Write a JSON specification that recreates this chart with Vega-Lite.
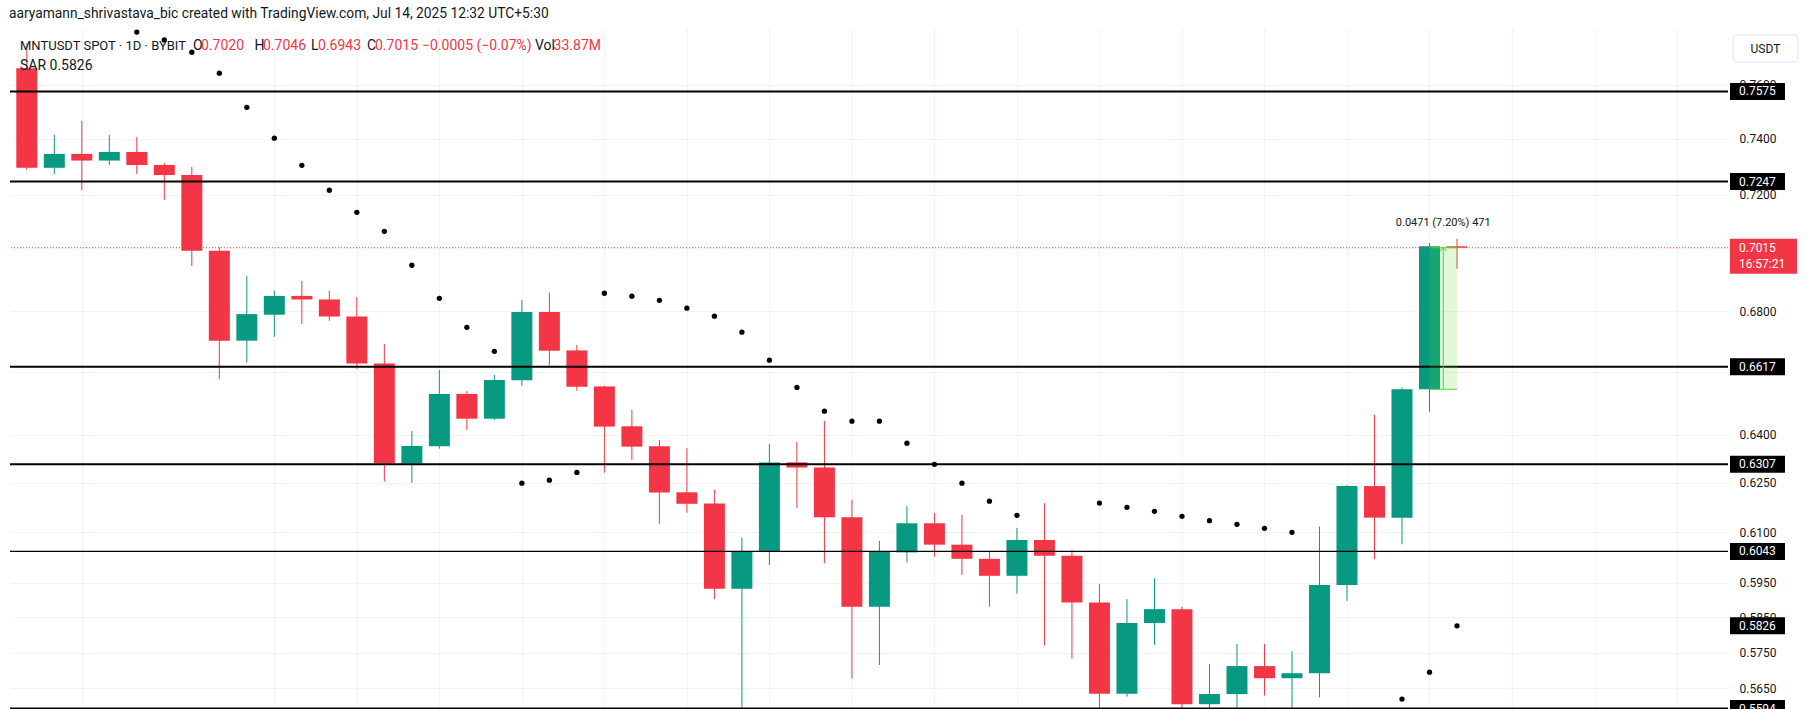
{
  "$schema": "https://vega.github.io/schema/vega-lite/v6.json",
  "width": 1718,
  "height": 681,
  "autosize": {"type": "none"},
  "padding": {"left": 10, "top": 28, "right": 86, "bottom": 0},
  "background": "#ffffff",
  "config": {"view": {"stroke": null}, "font": "Roboto", "scale": {"continuousPadding": 0}},
  "datasets": {
    "candles": [
      {"i":0,"open":0.7662,"high":0.7757,"low":0.7288,"close":0.7296},
      {"i":1,"open":0.7296,"high":0.7415,"low":0.7274,"close":0.7346},
      {"i":2,"open":0.7346,"high":0.7466,"low":0.7217,"close":0.7322},
      {"i":3,"open":0.7322,"high":0.7415,"low":0.7306,"close":0.7353},
      {"i":4,"open":0.7353,"high":0.7407,"low":0.7274,"close":0.7306},
      {"i":5,"open":0.7306,"high":0.7313,"low":0.7182,"close":0.7270},
      {"i":6,"open":0.7270,"high":0.7299,"low":0.6952,"close":0.7005},
      {"i":7,"open":0.7005,"high":0.7017,"low":0.6577,"close":0.6702},
      {"i":8,"open":0.6702,"high":0.6918,"low":0.6630,"close":0.6790},
      {"i":9,"open":0.6788,"high":0.6869,"low":0.6715,"close":0.6851},
      {"i":10,"open":0.6851,"high":0.6902,"low":0.6757,"close":0.6839},
      {"i":11,"open":0.6839,"high":0.6869,"low":0.6768,"close":0.6782},
      {"i":12,"open":0.6782,"high":0.6847,"low":0.6610,"close":0.6627},
      {"i":13,"open":0.6627,"high":0.6691,"low":0.6254,"close":0.6310},
      {"i":14,"open":0.6310,"high":0.6411,"low":0.6250,"close":0.6364},
      {"i":15,"open":0.6363,"high":0.6606,"low":0.6356,"close":0.6529},
      {"i":16,"open":0.6529,"high":0.6538,"low":0.6414,"close":0.6450},
      {"i":17,"open":0.6450,"high":0.6590,"low":0.6446,"close":0.6574},
      {"i":18,"open":0.6573,"high":0.6837,"low":0.6555,"close":0.6797},
      {"i":19,"open":0.6797,"high":0.6862,"low":0.6622,"close":0.6669},
      {"i":20,"open":0.6670,"high":0.6688,"low":0.6539,"close":0.6552},
      {"i":21,"open":0.6553,"high":0.6555,"low":0.6281,"close":0.6425},
      {"i":22,"open":0.6426,"high":0.6478,"low":0.6321,"close":0.6362},
      {"i":23,"open":0.6363,"high":0.6383,"low":0.6125,"close":0.6220},
      {"i":24,"open":0.6221,"high":0.6357,"low":0.6159,"close":0.6186},
      {"i":25,"open":0.6187,"high":0.6228,"low":0.5903,"close":0.5933},
      {"i":26,"open":0.5933,"high":0.6084,"low":0.5575,"close":0.6042},
      {"i":27,"open":0.6042,"high":0.6370,"low":0.6003,"close":0.6313},
      {"i":28,"open":0.6313,"high":0.6377,"low":0.6174,"close":0.6297},
      {"i":29,"open":0.6297,"high":0.6443,"low":0.6008,"close":0.6145},
      {"i":30,"open":0.6145,"high":0.6198,"low":0.5677,"close":0.5881},
      {"i":31,"open":0.5881,"high":0.6074,"low":0.5715,"close":0.6042},
      {"i":32,"open":0.6040,"high":0.6179,"low":0.6010,"close":0.6127},
      {"i":33,"open":0.6127,"high":0.6158,"low":0.6027,"close":0.6063},
      {"i":34,"open":0.6063,"high":0.6152,"low":0.5973,"close":0.6021},
      {"i":35,"open":0.6021,"high":0.6041,"low":0.5881,"close":0.5971},
      {"i":36,"open":0.5971,"high":0.6113,"low":0.5919,"close":0.6077},
      {"i":37,"open":0.6077,"high":0.6188,"low":0.5770,"close":0.6030},
      {"i":38,"open":0.6030,"high":0.6047,"low":0.5733,"close":0.5893},
      {"i":39,"open":0.5893,"high":0.5947,"low":0.5560,"close":0.5635},
      {"i":40,"open":0.5635,"high":0.5903,"low":0.5627,"close":0.5834},
      {"i":41,"open":0.5834,"high":0.5964,"low":0.5772,"close":0.5874},
      {"i":42,"open":0.5874,"high":0.5881,"low":0.5588,"close":0.5606},
      {"i":43,"open":0.5606,"high":0.5718,"low":0.5588,"close":0.5634},
      {"i":44,"open":0.5634,"high":0.5774,"low":0.5590,"close":0.5712},
      {"i":45,"open":0.5712,"high":0.5774,"low":0.5630,"close":0.5678},
      {"i":46,"open":0.5678,"high":0.5754,"low":0.5590,"close":0.5692},
      {"i":47,"open":0.5692,"high":0.6117,"low":0.5625,"close":0.5944},
      {"i":48,"open":0.5944,"high":0.6243,"low":0.5898,"close":0.6240},
      {"i":49,"open":0.6240,"high":0.6462,"low":0.6020,"close":0.6144},
      {"i":50,"open":0.6144,"high":0.6550,"low":0.6064,"close":0.6544},
      {"i":51,"open":0.6544,"high":0.7031,"low":0.6472,"close":0.7020},
      {"i":52,"open":0.7020,"high":0.7046,"low":0.6943,"close":0.7015}
    ],
    "sar": [
      {"i":4,"sar":0.7799},{"i":5,"sar":0.7769},{"i":6,"sar":0.7722},{"i":7,"sar":0.7643},
      {"i":8,"sar":0.7516},{"i":9,"sar":0.7403},{"i":10,"sar":0.7305},{"i":11,"sar":0.7216},
      {"i":12,"sar":0.7138},{"i":13,"sar":0.7072},{"i":14,"sar":0.6955},{"i":15,"sar":0.6843},
      {"i":16,"sar":0.6746},{"i":17,"sar":0.6667},{"i":18,"sar":0.6249},{"i":19,"sar":0.6258},
      {"i":20,"sar":0.6282},{"i":21,"sar":0.6860},{"i":22,"sar":0.6850},{"i":23,"sar":0.6836},
      {"i":24,"sar":0.6810},{"i":25,"sar":0.6783},{"i":26,"sar":0.6730},{"i":27,"sar":0.6638},
      {"i":28,"sar":0.6550},{"i":29,"sar":0.6474},{"i":30,"sar":0.6442},{"i":31,"sar":0.6442},
      {"i":32,"sar":0.6373},{"i":33,"sar":0.6307},{"i":34,"sar":0.6249},{"i":35,"sar":0.6194},
      {"i":36,"sar":0.6151},{"i":39,"sar":0.6188},{"i":40,"sar":0.6175},{"i":41,"sar":0.6163},
      {"i":42,"sar":0.6148},{"i":43,"sar":0.6135},{"i":44,"sar":0.6124},{"i":45,"sar":0.6112},
      {"i":46,"sar":0.6100},{"i":50,"sar":0.5620},{"i":51,"sar":0.5695},{"i":52,"sar":0.5826}
    ],
    "levels": [
      {"price":0.7575,"weight":"major"},
      {"price":0.7247,"weight":"major"},
      {"price":0.6617,"weight":"major"},
      {"price":0.6307,"weight":"major"},
      {"price":0.6043,"weight":"minor"},
      {"price":0.5594,"weight":"major"}
    ],
    "pricelabels": [
      {"price":0.7575,"text":"0.7575"},
      {"price":0.7247,"text":"0.7247"},
      {"price":0.6617,"text":"0.6617"},
      {"price":0.6307,"text":"0.6307"},
      {"price":0.6043,"text":"0.6043"},
      {"price":0.5826,"text":"0.5826"},
      {"price":0.5594,"text":"0.5594"}
    ],
    "last": [{"price":0.7015,"text":"0.7015","countdown":"16:57:21"}],
    "measure": [{"start":51,"end":52,"mid":51.5,"from":0.6544,"to":0.7015,"label":"0.0471 (7.20%) 471"}]
  },
  "layer": [
    {
      "data": {"name": "candles"},
      "mark": {"type": "rule", "strokeWidth": 1},
      "encoding": {
        "x": {"field": "i", "type": "quantitative",
              "scale": {"domain": [-0.6108, 61.853], "nice": false, "zero": false, "padding": 0},
              "axis": {"values": [2,9,12,15,18,21,24,27,30,33,36,39,42,45,48,51,54,57,60],
                       "grid": true, "gridColor": "#f0f3fa", "gridWidth": 1,
                       "labels": false, "ticks": false, "domain": false, "title": null}},
        "y": {"field": "low", "type": "quantitative",
              "scale": {"type": "log", "domain": [0.55928, 0.78146], "nice": false},
              "axis": {"orient": "right", "values": [0.76,0.74,0.72,0.68,0.66,0.64,0.625,0.61,0.595,0.585,0.575,0.565],
                       "format": ".4f", "grid": true, "gridColor": "#f0f3fa", "gridWidth": 1,
                       "ticks": false, "domain": false, "labelPadding": 11, "labelAlign": "left",
                       "labelColor": "#131722", "labelFontSize": 12, "labelFont": "Roboto",
                       "labelOverlap": false, "labelFlush": false, "labelBound": false, "title": null,
                       "labelExpr": "datum.value == 0.66 ? '' : datum.label"}},
        "y2": {"field": "high"},
        "color": {"condition": {"test": "datum.close >= datum.open", "value": "#089981"}, "value": "#F23645"}
      }
    },
    {
      "data": {"name": "candles"},
      "mark": {"type": "bar", "width": 21},
      "encoding": {
        "x": {"field": "i", "type": "quantitative"},
        "y": {"field": "open", "type": "quantitative"},
        "y2": {"field": "close"},
        "color": {"condition": {"test": "datum.close >= datum.open", "value": "#089981"}, "value": "#F23645"}
      }
    },
    {
      "data": {"name": "sar"},
      "mark": {"type": "circle", "size": 28, "color": "#000000", "opacity": 1},
      "encoding": {
        "x": {"field": "i", "type": "quantitative"},
        "y": {"field": "sar", "type": "quantitative"}
      }
    },
    {
      "data": {"name": "levels"},
      "mark": {"type": "rule", "color": "#000000"},
      "encoding": {
        "y": {"field": "price", "type": "quantitative"},
        "strokeWidth": {"field": "weight", "type": "nominal", "scale": {"domain": ["major","minor"], "range": [2, 1.3]}, "legend": null}
      }
    },
    {
      "data": {"name": "last"},
      "mark": {"type": "rule", "color": "#F23645", "strokeWidth": 1, "strokeDash": [1, 2]},
      "encoding": {"y": {"field": "price", "type": "quantitative"}}
    },
    {
      "data": {"name": "measure"},
      "mark": {"type": "rect", "color": "#5cdd2b", "opacity": 0.18},
      "encoding": {
        "x": {"field": "start", "type": "quantitative"}, "x2": {"field": "end"},
        "y": {"field": "from", "type": "quantitative"}, "y2": {"field": "to"}
      }
    },
    {
      "data": {"name": "measure"},
      "mark": {"type": "rule", "color": "#4fd62f", "strokeWidth": 1},
      "encoding": {
        "x": {"field": "start", "type": "quantitative"}, "x2": {"field": "end"},
        "y": {"field": "from", "type": "quantitative"}
      }
    },
    {
      "data": {"name": "measure"},
      "mark": {"type": "rule", "color": "#4fd62f", "strokeWidth": 1},
      "encoding": {
        "x": {"field": "start", "type": "quantitative"}, "x2": {"field": "end"},
        "y": {"field": "to", "type": "quantitative"}
      }
    },
    {
      "data": {"name": "measure"},
      "mark": {"type": "rule", "color": "#4fd62f", "strokeWidth": 1},
      "encoding": {
        "x": {"field": "mid", "type": "quantitative"},
        "y": {"field": "from", "type": "quantitative"}, "y2": {"field": "to"}
      }
    },
    {
      "data": {"name": "measure"},
      "mark": {"type": "point", "shape": "M-1,1L0,0L1,1", "filled": false, "color": "#4fd62f", "strokeWidth": 1, "size": 40, "opacity": 1},
      "encoding": {
        "x": {"field": "mid", "type": "quantitative"},
        "y": {"field": "to", "type": "quantitative"}
      }
    },
    {
      "data": {"name": "measure"},
      "mark": {"type": "text", "fontSize": 11, "color": "#131722", "baseline": "middle", "align": "center"},
      "encoding": {
        "x": {"field": "mid", "type": "quantitative"},
        "y": {"datum": 0.7101},
        "text": {"field": "label"}
      }
    },
    {
      "data": {"values": [{"t": "aaryamann_shrivastava_bic created with TradingView.com, Jul 14, 2025 12:32 UTC+5:30"}]},
      "mark": {"type": "text", "fontSize": 13.8, "color": "#131722", "align": "left", "baseline": "middle"},
      "encoding": {"x": {"datum": -0.6472}, "y": {"datum": 0.78686}, "text": {"field": "t"}}
    },
    {
      "data": {"values": [{"t": "MNTUSDT SPOT · 1D · BYBIT"}]},
      "mark": {"type": "text", "fontSize": 13, "color": "#131722", "align": "left", "baseline": "middle"},
      "encoding": {"x": {"datum": -0.2472}, "y": {"datum": 0.77459}, "text": {"field": "t"}}
    },
    {
      "data": {"values": [{"t": "O"}]},
      "mark": {"type": "text", "fontSize": 14, "color": "#131722", "align": "left", "baseline": "middle"},
      "encoding": {"x": {"datum": 6.0427}, "y": {"datum": 0.77459}, "text": {"field": "t"}}
    },
    {
      "data": {"values": [{"t": "0.7020"}]},
      "mark": {"type": "text", "fontSize": 14, "color": "#F23645", "align": "left", "baseline": "middle"},
      "encoding": {"x": {"datum": 6.3336}, "y": {"datum": 0.77459}, "text": {"field": "t"}}
    },
    {
      "data": {"values": [{"t": "H"}]},
      "mark": {"type": "text", "fontSize": 14, "color": "#131722", "align": "left", "baseline": "middle"},
      "encoding": {"x": {"datum": 8.2788}, "y": {"datum": 0.77459}, "text": {"field": "t"}}
    },
    {
      "data": {"values": [{"t": "0.7046"}]},
      "mark": {"type": "text", "fontSize": 14, "color": "#F23645", "align": "left", "baseline": "middle"},
      "encoding": {"x": {"datum": 8.5878}, "y": {"datum": 0.77459}, "text": {"field": "t"}}
    },
    {
      "data": {"values": [{"t": "L"}]},
      "mark": {"type": "text", "fontSize": 14, "color": "#131722", "align": "left", "baseline": "middle"},
      "encoding": {"x": {"datum": 10.333}, "y": {"datum": 0.77459}, "text": {"field": "t"}}
    },
    {
      "data": {"values": [{"t": "0.6943"}]},
      "mark": {"type": "text", "fontSize": 14, "color": "#F23645", "align": "left", "baseline": "middle"},
      "encoding": {"x": {"datum": 10.588}, "y": {"datum": 0.77459}, "text": {"field": "t"}}
    },
    {
      "data": {"values": [{"t": "C"}]},
      "mark": {"type": "text", "fontSize": 14, "color": "#131722", "align": "left", "baseline": "middle"},
      "encoding": {"x": {"datum": 12.369}, "y": {"datum": 0.77459}, "text": {"field": "t"}}
    },
    {
      "data": {"values": [{"t": "0.7015"}]},
      "mark": {"type": "text", "fontSize": 14, "color": "#F23645", "align": "left", "baseline": "middle"},
      "encoding": {"x": {"datum": 12.66}, "y": {"datum": 0.77459}, "text": {"field": "t"}}
    },
    {
      "data": {"values": [{"t": "−0.0005 (−0.07%)"}]},
      "mark": {"type": "text", "fontSize": 14, "color": "#F23645", "align": "left", "baseline": "middle"},
      "encoding": {"x": {"datum": 14.369}, "y": {"datum": 0.77459}, "text": {"field": "t"}}
    },
    {
      "data": {"values": [{"t": "Vol"}]},
      "mark": {"type": "text", "fontSize": 14, "color": "#131722", "align": "left", "baseline": "middle"},
      "encoding": {"x": {"datum": 18.477}, "y": {"datum": 0.77459}, "text": {"field": "t"}}
    },
    {
      "data": {"values": [{"t": "33.87M"}]},
      "mark": {"type": "text", "fontSize": 14, "color": "#F23645", "align": "left", "baseline": "middle"},
      "encoding": {"x": {"datum": 19.154}, "y": {"datum": 0.77459}, "text": {"field": "t"}}
    },
    {
      "data": {"values": [{"t": "SAR  0.5826"}]},
      "mark": {"type": "text", "fontSize": 14, "color": "#131722", "align": "left", "baseline": "middle"},
      "encoding": {"x": {"datum": -0.2472}, "y": {"datum": 0.76701}, "text": {"field": "t"}}
    },
    {
      "data": {"name": "pricelabels"},
      "mark": {"type": "rule", "color": "#000000", "strokeWidth": 17, "strokeCap": "butt"},
      "encoding": {
        "x": {"datum": 61.925}, "x2": {"datum": 63.925},
        "y": {"field": "price", "type": "quantitative"}
      }
    },
    {
      "data": {"name": "pricelabels"},
      "mark": {"type": "text", "fontSize": 12, "color": "#ffffff", "align": "left", "baseline": "middle"},
      "encoding": {
        "x": {"datum": 62.252},
        "y": {"field": "price", "type": "quantitative"},
        "text": {"field": "text"}
      }
    },
    {
      "data": {"name": "last"},
      "mark": {"type": "rule", "color": "#F23645", "strokeWidth": 35, "strokeCap": "butt", "yOffset": 8.5},
      "encoding": {
        "x": {"datum": 61.925}, "x2": {"datum": 64.361},
        "y": {"field": "price", "type": "quantitative"}
      }
    },
    {
      "data": {"name": "last"},
      "mark": {"type": "text", "fontSize": 12, "color": "#ffffff", "align": "left", "baseline": "middle"},
      "encoding": {
        "x": {"datum": 62.252},
        "y": {"field": "price", "type": "quantitative"},
        "text": {"field": "text"}
      }
    },
    {
      "data": {"name": "last"},
      "mark": {"type": "text", "fontSize": 12, "color": "#ffffff", "align": "left", "baseline": "middle", "dy": 16},
      "encoding": {
        "x": {"datum": 62.252},
        "y": {"field": "price", "type": "quantitative"},
        "text": {"field": "countdown"}
      }
    },
    {
      "data": {"values": [{"t": "USDT"}]},
      "mark": {"type": "rect", "fill": "#ffffff", "stroke": "#e0e3eb", "strokeWidth": 1, "cornerRadius": 4},
      "encoding": {
        "x": {"datum": 62.035}, "x2": {"datum": 64.397},
        "y": {"datum": 0.77878}, "y2": {"datum": 0.76852}
      }
    },
    {
      "data": {"values": [{"t": "USDT"}]},
      "mark": {"type": "text", "fontSize": 12, "color": "#131722", "align": "center", "baseline": "middle"},
      "encoding": {"x": {"datum": 63.215}, "y": {"datum": 0.77345}, "text": {"field": "t"}}
    }
  ]
}
